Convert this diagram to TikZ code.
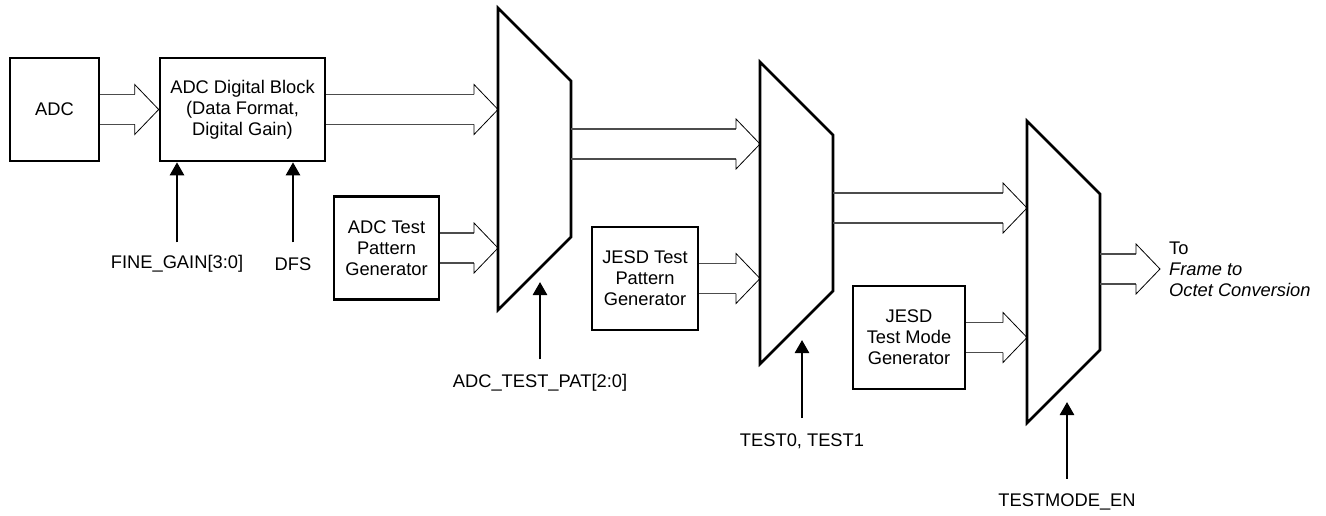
\documentclass[tikz,border=0pt]{standalone}
\usepackage{fontspec}
\setmainfont{Liberation Sans}
\usetikzlibrary{arrows.meta,calc}
\newcommand\busarrow[2]{%
  \draw[busshaft] let \p1=(#1), \p2=(#2) in
    (\x1,\y1+15pt) -- (\x2-24pt,\y1+15pt)
    (\x1,\y1-15pt) -- (\x2-24pt,\y1-15pt);
  \draw[bushead] let \p1=(#1), \p2=(#2) in
    (\x2-24pt,\y1+15pt) -- (\x2-24pt,\y1+25pt) -- (\x2,\y1)
    -- (\x2-24pt,\y1-25pt) -- (\x2-24pt,\y1-15pt);}
\begin{document}
\begin{tikzpicture}[x=1pt,y=-1pt,
  font=\fontsize{18.3}{21}\selectfont,
  blk/.style={draw, line width=2.6pt, inner sep=0pt, align=center, minimum height=103pt},
  mux/.style={draw, line width=2.6pt, line join=miter},
  busshaft/.style={line width=1.2pt, draw=black!70},
  bushead/.style={line width=0.8pt, draw=black, line join=miter},
  ctrl/.style={line width=2.6pt, -{Triangle[length=13pt,width=14pt]}, shorten <=15pt},
  lbl/.style={inner sep=0pt}]
\useasboundingbox (0,0) rectangle (1326,516);

% blocks
\node[blk, minimum width=89pt]  (adc)  at (54.5,109.5) {ADC};
\node[blk, minimum width=165pt] (digi) at (242.5,109.5) {ADC Digital Block\\(Data Format,\\Digital Gain)};
\node[blk, minimum width=105pt] (atg)  at (386.5,248) {ADC Test\\Pattern\\Generator};
\node[blk, minimum width=106pt] (jtp)  at (645,278.5) {JESD Test\\Pattern\\Generator};
\node[blk, minimum width=112pt] (jtm)  at (909,337.5) {JESD\\Test Mode\\Generator};

% multiplexers
\draw[mux] (498,8) -- (571,81) -- (571,237) -- (498,310) -- cycle;
\draw[mux] (760,62) -- (833,135) -- (833,291) -- (760,364) -- cycle;
\draw[mux] (1027,121) -- (1100,194) -- (1100,350) -- (1027,423) -- cycle;
\coordinate (m1inA) at (498,110);
\coordinate (m1inB) at (498,248);
\coordinate (m1out) at (571,144);
\coordinate (m2inA) at (760,144);
\coordinate (m2inB) at (760,278.5);
\coordinate (m2out) at (833,208);
\coordinate (m3inA) at (1027,208);
\coordinate (m3inB) at (1027,337.5);
\coordinate (m3out) at (1100,269);
\coordinate (dest)  at (1160,269);

% bus arrows
\busarrow{adc.east}{digi.west}
\busarrow{digi.east}{m1inA}
\busarrow{atg.east}{m1inB}
\busarrow{m1out}{m2inA}
\busarrow{jtp.east}{m2inB}
\busarrow{m2out}{m3inA}
\busarrow{jtm.east}{m3inB}
\busarrow{m3out}{dest}

\node[lbl, anchor=west, align=left] (to) at (1169,269) {To\\\textit{Frame to}\\\textit{Octet Conversion}};

% control signals
\node[lbl] (fg)  at (177,264) {FINE\_GAIN[3:0]};
\node[lbl] (dfs) at (293,264) {DFS};
\draw[ctrl, shorten <=13pt] (fg.north) -- (fg.north |- digi.south);
\draw[ctrl] (dfs.north) -- (dfs.north |- digi.south);

\node[lbl] (s1) at (540,383) {ADC\_TEST\_PAT[2:0]};
\node[lbl] (s2) at (802,441) {TEST0, TEST1};
\node[lbl] (s3) at (1067,502) {TESTMODE\_EN};
\coordinate (s1t) at (540,282);
\coordinate (s2t) at (802,340);
\coordinate (s3t) at (1067,402);
\draw[ctrl] (s1.north) -- (s1t);
\draw[ctrl] (s2.north) -- (s2t);
\draw[ctrl] (s3.north) -- (s3t);
\end{tikzpicture}
\end{document}
